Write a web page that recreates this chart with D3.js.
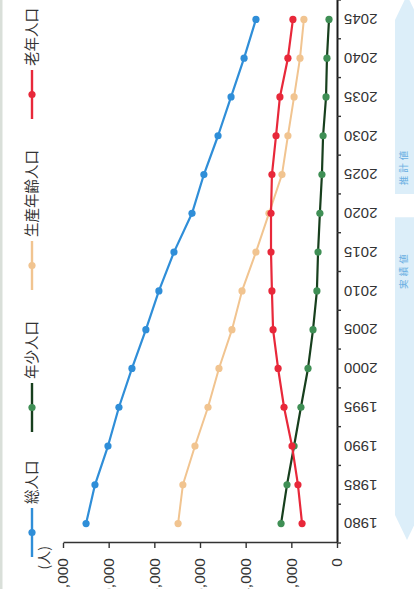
<!DOCTYPE html>
<html>
<head>
<meta charset="utf-8">
<script src="https://cdn.jsdelivr.net/npm/d3@7"></script>
<style>
  html, body { margin: 0; padding: 0; background: #fff; overflow: hidden; }
  svg { display: block; }
</style>
</head>
<body>
<svg id="chart" width="414" height="589"></svg>
<script>
// Population by age group, 1980–2045 (actual values to 2015, projections after)
const years   = [1980, 1985, 1990, 1995, 2000, 2005, 2010, 2015, 2020, 2025, 2030, 2035, 2040, 2045];
const total   = [10990, 10600, 10030, 9550, 8980, 8370, 7800, 7140, 6350, 5830, 5210, 4640, 4070, 3550];
const young   = [2450, 2190, 1880, 1580, 1270, 1050, 880, 830, 750, 660, 610, 480, 440, 350];
const working = [6960, 6750, 6220, 5650, 5170, 4600, 4160, 3550, 2980, 2410, 2150, 1880, 1620, 1450];
const elderly = [1530, 1710, 1970, 2320, 2580, 2800, 2850, 2890, 2890, 2850, 2670, 2500, 2150, 1930];
const valueTicks = [0, 2000, 4000, 6000, 8000, 10000, 12000];
const seriesNames = ["総人口", "年少人口", "生産年齢人口", "老年人口"];
const unitLabel = "(人)";
const periodLabels = ["実績値", "推計値"];

const series = [
  { name: seriesNames[0], values: total,   line: "#2f8ed8", dot: "#2f8ed8", width: 2.2 },
  { name: seriesNames[1], values: young,   line: "#173f1d", dot: "#3f8f55", width: 2.2 },
  { name: seriesNames[2], values: working, line: "#f1c490", dot: "#f1c490", width: 2.0 },
  { name: seriesNames[3], values: elderly, line: "#e8283a", dot: "#e8283a", width: 2.2 }
];

const svg = d3.select("#chart");

// thin shaded strip along the left edge of the page
svg.append("rect").attr("x", 0).attr("y", 0).attr("width", 2.5).attr("height", 589)
  .attr("fill", "#d9dfd9");

// The chart is laid out in its own frame (years left→right, values bottom→top)
// and turned a quarter-turn counter-clockwise onto the page.
const W = 543, H = 274;
const g = svg.append("g").attr("transform", "translate(63,543) rotate(-90)");

const x = d3.scaleBand().domain(years).range([0, W]).padding(0);
const y = d3.scaleLinear().domain([0, 12000]).range([H, 0]);
const bw = x.bandwidth();
const cx = yr => x(yr) + bw / 2;

// period bands (actual / projection) beyond the year labels
const bandTop = 332, bandBot = 356, bandMid = (bandTop + bandBot) / 2, head = 25;
const actualStart = x(1980) + 3, actualEnd = cx(2020) - 4;
const projStart = x(2025), projEnd = W - 20;
g.append("path")
  .attr("d", `M${actualStart},${bandMid} L${actualStart + head},${bandTop} L${actualEnd},${bandTop} L${actualEnd},${bandBot} L${actualStart + head},${bandBot} Z`)
  .attr("fill", "#dceef9");
g.append("path")
  .attr("d", `M${projStart},${bandTop} L${projEnd},${bandTop} L${projEnd + head},${bandMid} L${projEnd},${bandBot} L${projStart},${bandBot} Z`)
  .attr("fill", "#dceef9");
g.append("text").attr("x", cx(2015) - 18).attr("y", bandMid - 3).attr("dy", "0.35em")
  .attr("text-anchor", "middle")
  .style("font", "9.5px 'Noto Sans CJK JP'").style("letter-spacing", "3px")
  .attr("fill", "#6aaee2").text(periodLabels[0]);
g.append("text").attr("x", cx(2025) + 8).attr("y", bandMid - 3).attr("dy", "0.35em")
  .attr("text-anchor", "middle")
  .style("font", "9.5px 'Noto Sans CJK JP'").style("letter-spacing", "3px")
  .attr("fill", "#6aaee2").text(periodLabels[1]);

// value axis
const yAxis = g.append("g")
  .call(d3.axisLeft(y).tickValues(valueTicks).tickSize(5).tickSizeOuter(0).tickPadding(10)
    .tickFormat(d3.format(",")));
yAxis.select(".domain").attr("stroke", "#333").attr("stroke-width", 1.4);
yAxis.selectAll(".tick line").attr("stroke", "#333").attr("stroke-width", 1.4);
yAxis.selectAll("text").style("font", "15.5px 'Liberation Sans', sans-serif").attr("fill", "#333");

// year axis: labels at band centres, ticks on band boundaries
const xAxis = g.append("g").attr("transform", `translate(0,${H})`)
  .call(d3.axisBottom(x).tickSize(0).tickSizeOuter(0));
xAxis.select(".domain").attr("stroke", "#1a1a1a").attr("stroke-width", 2);
xAxis.selectAll("text")
  .attr("transform", "rotate(-90)")
  .attr("x", -7).attr("y", 0).attr("dy", "0.35em")
  .style("text-anchor", "end")
  .style("font", "15px 'Liberation Sans', sans-serif")
  .attr("fill", "#333");
xAxis.selectAll(".boundary")
  .data(years.map(yr => x(yr)).concat([W]))
  .join("line").attr("class", "boundary")
  .attr("x1", d => d).attr("x2", d => d)
  .attr("y1", 0).attr("y2", 4)
  .attr("stroke", "#333").attr("stroke-width", 1.4);

// unit label
g.append("text").attr("x", -3).attr("y", -14)
  .attr("text-anchor", "end")
  .style("font", "14px 'Noto Sans CJK JP'").attr("fill", "#333")
  .text(unitLabel);

// series lines and markers
const line = d3.line().x((d, i) => cx(years[i])).y(d => y(d));
series.forEach(s => {
  g.append("path").datum(s.values)
    .attr("fill", "none").attr("stroke", s.line).attr("stroke-width", s.width)
    .attr("stroke-linejoin", "round").attr("d", line);
  g.append("g").selectAll("circle").data(s.values).join("circle")
    .attr("cx", (d, i) => cx(years[i])).attr("cy", d => y(d))
    .attr("r", 3.6).attr("fill", s.dot);
});

// legend
const legendStarts = [-14, 111, 253, 424];
const legendY = -31, legendLen = 49;
series.forEach((s, i) => {
  const lg = g.append("g").attr("transform", `translate(${legendStarts[i]},${legendY})`);
  lg.append("line").attr("x1", 0).attr("x2", legendLen).attr("y1", 0).attr("y2", 0)
    .attr("stroke", s.line).attr("stroke-width", 2.4);
  lg.append("circle").attr("cx", legendLen / 2).attr("cy", 0).attr("r", 3.6).attr("fill", s.dot);
  lg.append("text").attr("x", legendLen + 4).attr("y", 0).attr("dy", "0.36em")
    .style("font", "14.5px 'Noto Sans CJK JP'").attr("fill", "#333")
    .text(s.name);
});
</script>
</body>
</html>
